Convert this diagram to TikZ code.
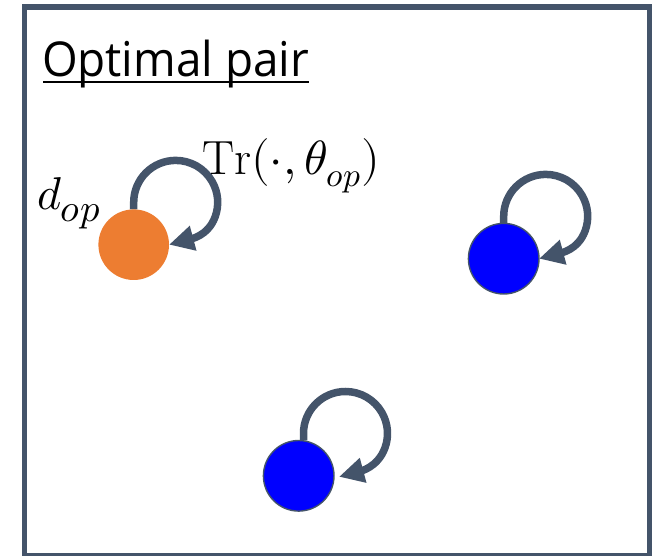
\documentclass[tikz,border=0pt]{standalone}
\usepackage{fontspec}
\usepackage{unicode-math}
\newfontfamily\titlefont[FakeStretch=0.955]{Open Sans}
\usetikzlibrary{arrows.meta}
\pgfdeclarelayer{background}
\pgfsetlayers{background,main}
\definecolor{slate}{HTML}{44546A}
\definecolor{orng}{HTML}{ED7D31}
\definecolor{pureblue}{HTML}{0000FF}
\tikzset{
  state/.style={circle, minimum size=70.6pt, inner sep=0pt, outer sep=0pt},
  orangestate/.style={state, fill=orng},
  bluestate/.style={state, fill=pureblue, draw=slate, line width=1.4pt},
  loopline/.style={draw=slate, line width=7.5pt, -{Triangle[length=25pt,width=24pt]}},
  frame/.style={draw=slate, line width=5.5pt},
  lbl/.style={inner sep=0pt, outer sep=0pt, anchor=base west}
}
\begin{document}
\begin{tikzpicture}[x=1pt,y=1pt]
\useasboundingbox (0,0) rectangle (662,556);
\draw[frame] (24.5,0) rectangle (649.5,549);
\node[lbl] (title) at (42,479) {\titlefont\fontsize{48}{48}\selectfont Optimal pair};
\draw[line width=2.6pt] ([yshift=-5pt,xshift=1pt]title.base west) -- ([yshift=-5pt]title.base east);
\node[orangestate] (o) at (133.7,311.3) {};
\node[bluestate] (b1) at (503.7,297.3) {};
\node[bluestate] (b2) at (298.7,80.2) {};
\node[lbl] (tr) at (202,381) {\fontsize{48}{48}\selectfont $\mathrm{Tr}(\cdot,\theta_{op})$};
\node[lbl] (d) at (37,346) {\fontsize{46}{46}\selectfont $d_{\scalebox{1.2}{$\scriptstyle op$}}$};
\begin{pgfonlayer}{background}
\draw[loopline] (o.north) -- ++(0,7) arc[start angle=180,end angle=-20,radius=42] to[out=250,in=15] (o.east);
\draw[loopline] (b1.north) -- ++(0,7) arc[start angle=180,end angle=-20,radius=42] to[out=250,in=15] (b1.east);
\draw[loopline] ([xshift=4.8pt]b2.north) -- ++(0,7) arc[start angle=180,end angle=-20,radius=42] to[out=250,in=15] ([xshift=5pt,yshift=-1pt]b2.east);
\end{pgfonlayer}
\end{tikzpicture}
\end{document}
